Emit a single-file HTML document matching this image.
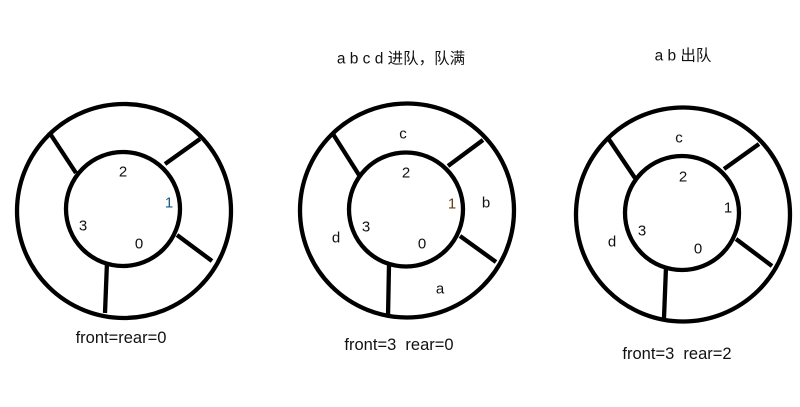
<!DOCTYPE html>
<html><head><meta charset="utf-8"><style>
html,body{margin:0;padding:0;background:#fff;}
svg{display:block;}
text{font-family:"Liberation Sans","Noto Sans CJK SC",sans-serif;font-size:15px;fill:#111;text-anchor:middle;dominant-baseline:central;white-space:pre;}
.cap{font-size:16.5px;}
</style></head><body>
<svg width="800" height="407" viewBox="0 0 800 407" xml:space="preserve">
<g stroke="#000" stroke-width="4.3" fill="none">
<circle cx="124" cy="211" r="107"/>
<circle cx="123" cy="209" r="57"/>
<line x1="49" y1="132" x2="76" y2="173"/>
<line x1="200" y1="139" x2="165" y2="164"/>
<line x1="177" y1="235" x2="212" y2="261"/>
<line x1="107" y1="262" x2="105" y2="313"/>
</g>
<g>
<text x="123" y="172">2</text>
<text x="169" y="203" style="fill:#1a5a8a">1</text>
<text x="83" y="226">3</text>
<text x="139" y="244">0</text>
<text class="cap" x="121" y="338">front=rear=0</text>
</g>
<g stroke="#000" stroke-width="4.3" fill="none">
<circle cx="407" cy="210.5" r="107"/>
<circle cx="406" cy="209.5" r="57"/>
<line x1="333" y1="134" x2="359" y2="175"/>
<line x1="483" y1="140" x2="448" y2="166"/>
<line x1="460" y1="236" x2="496" y2="262"/>
<line x1="389" y1="265" x2="388" y2="317"/>
</g>
<g>
<text x="401" y="59" style="font-size:15.5px">a b c d 进队，队满</text>
<text x="403" y="134">c</text>
<text x="406" y="173">2</text>
<text x="452" y="204" style="fill:#6a3a10">1</text>
<text x="486" y="203">b</text>
<text x="366" y="227">3</text>
<text x="336" y="238">d</text>
<text x="422" y="244">0</text>
<text x="440" y="289">a</text>
<text class="cap" x="399" y="345">front=3  rear=0</text>
</g>
<g stroke="#000" stroke-width="4.3" fill="none">
<circle cx="683" cy="214.5" r="107"/>
<circle cx="682" cy="213" r="57"/>
<line x1="608" y1="138" x2="635" y2="178"/>
<line x1="759" y1="144" x2="724" y2="169"/>
<line x1="736" y1="239" x2="772" y2="266"/>
<line x1="666" y1="267" x2="664" y2="318"/>
</g>
<g>
<text x="683" y="56" style="font-size:15.5px">a b 出队</text>
<text x="679" y="138">c</text>
<text x="683" y="177">2</text>
<text x="728" y="208">1</text>
<text x="642" y="231">3</text>
<text x="612" y="242">d</text>
<text x="698" y="249">0</text>
<text class="cap" x="677" y="354">front=3  rear=2</text>
</g>
</svg>
</body></html>
